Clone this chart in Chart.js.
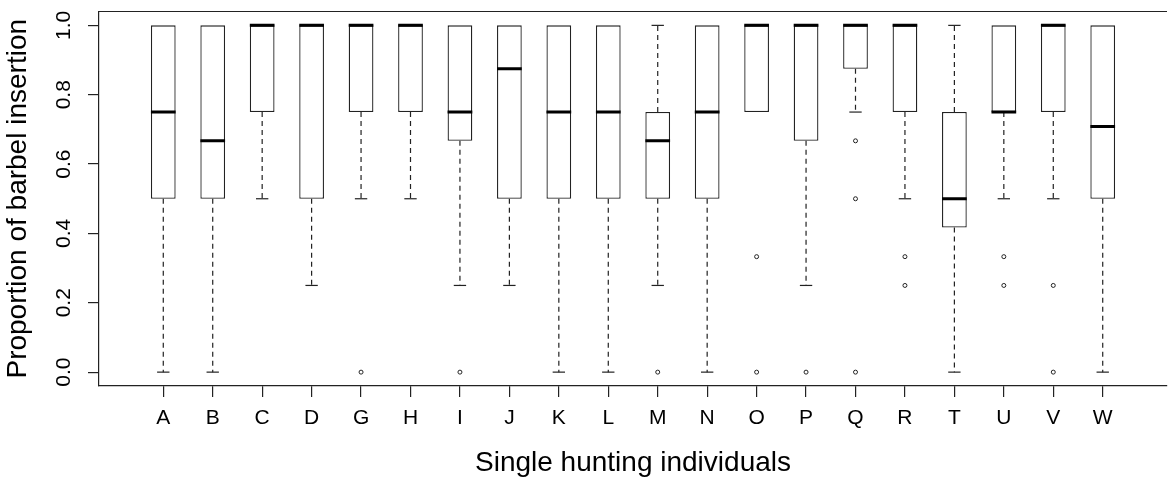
<!DOCTYPE html>
<html>
<head>
<meta charset="utf-8">
<script src="https://cdn.jsdelivr.net/npm/chart.js@4.4.1/dist/chart.umd.min.js"></script>
<style>
  html, body { margin: 0; padding: 0; background: #fff; overflow: hidden; }
  canvas { display: block; }
</style>
</head>
<body>
<canvas id="boxplot" width="1172" height="489"></canvas>
<script>
// === DATA ===
const individuals = ["A", "B", "C", "D", "G", "H", "I", "J", "K", "L", "M", "N", "O", "P", "Q", "R", "T", "U", "V", "W"];
const whiskerLow = [0, 0, 0.5, 0.25, 0.5, 0.5, 0.25, 0.25, 0, 0, 0.25, 0, 0.75, 0.25, 0.75, 0.5, 0, 0.5, 0.5, 0];
const quartile1 = [0.5, 0.5, 0.75, 0.5, 0.75, 0.75, 0.667, 0.5, 0.5, 0.5, 0.5, 0.5, 0.75, 0.667, 0.875, 0.75, 0.417, 0.75, 0.75, 0.5];
const medians = [0.75, 0.667, 1, 1, 1, 1, 0.75, 0.875, 0.75, 0.75, 0.667, 0.75, 1, 1, 1, 1, 0.5, 0.75, 1, 0.708];
const quartile3 = [1, 1, 1, 1, 1, 1, 1, 1, 1, 1, 0.75, 1, 1, 1, 1, 1, 0.75, 1, 1, 1];
const whiskerHigh = [1, 1, 1, 1, 1, 1, 1, 1, 1, 1, 1, 1, 1, 1, 1, 1, 1, 1, 1, 1];
const outliers = [[], [], [], [], [0], [], [0], [], [], [], [0], [], [0.333, 0], [0], [0.667, 0.5, 0], [0.333, 0.25], [], [0.333, 0.25], [0.25, 0], []];
const yTicks = [0, 0.2, 0.4, 0.6, 0.8, 1.0];

const FONT = "'Liberation Sans', Arial, sans-serif";
const INK = "#222";

// === WHISKERS, STAPLES, MEDIANS ===
const boxExtras = {
  id: "boxExtras",
  afterDatasetsDraw(chart) {
    const { ctx, chartArea, scales: { x, y } } = chart;
    ctx.save();
    ctx.strokeStyle = INK;
    ctx.lineWidth = 1.2;

    individuals.forEach((name, i) => {
      const cx = x.getPixelForValue(i + 1);
      const s0 = x.getPixelForValue(i + 1 - 0.125);
      const s1 = x.getPixelForValue(i + 1 + 0.125);
      // dashed whisker + staple, only where the whisker leaves the box
      [[whiskerLow[i], quartile1[i]], [whiskerHigh[i], quartile3[i]]].forEach(([end, edge]) => {
        if (end === edge) return;
        const py = y.getPixelForValue(end);
        ctx.setLineDash([5, 4]);
        ctx.beginPath();
        ctx.moveTo(cx, y.getPixelForValue(edge));
        ctx.lineTo(cx, py);
        ctx.stroke();
        ctx.setLineDash([]);
        ctx.beginPath();
        ctx.moveTo(s0, py);
        ctx.lineTo(s1, py);
        ctx.stroke();
      });
    });

    // medians
    ctx.strokeStyle = "#000";
    ctx.lineWidth = 3;
    ctx.beginPath();
    individuals.forEach((name, i) => {
      const py = y.getPixelForValue(medians[i]);
      ctx.moveTo(x.getPixelForValue(i + 1 - 0.25), py);
      ctx.lineTo(x.getPixelForValue(i + 1 + 0.25), py);
    });
    ctx.stroke();

    // top edge of the frame
    ctx.strokeStyle = INK;
    ctx.lineWidth = 1.2;
    ctx.beginPath();
    ctx.moveTo(chartArea.left, chartArea.top);
    ctx.lineTo(chartArea.right, chartArea.top);
    ctx.stroke();
    ctx.restore();
  }
};

// === CHART ===
const outlierPoints = [];
outliers.forEach((list, i) => list.forEach(v => outlierPoints.push({ x: i + 1, y: v })));

const noPadding = s => { s.paddingTop = 0; s.paddingBottom = 0; s.paddingLeft = 0; s.paddingRight = 0; };

new Chart(document.getElementById("boxplot"), {
  type: "bar",
  data: {
    datasets: [
      {
        data: individuals.map((n, i) => ({ x: i + 1, y: [quartile1[i], quartile3[i]] })),
        backgroundColor: "#fff",
        borderColor: INK,
        borderWidth: 1.3,
        borderSkipped: false,
        barPercentage: 0.5,
        categoryPercentage: 1,
        grouped: false
      },
      {
        type: "scatter",
        data: outlierPoints,
        pointStyle: "circle",
        pointRadius: 2,
        pointBorderWidth: 1,
        borderColor: INK,
        backgroundColor: "rgba(0,0,0,0)"
      }
    ]
  },
  options: {
    responsive: false,
    animation: false,
    devicePixelRatio: 1,
    layout: { padding: { top: 11.5, right: 3, left: 0, bottom: 0 } },
    plugins: { legend: { display: false }, tooltip: { enabled: false } },
    scales: {
      x: {
        type: "linear",
        min: -0.3,
        max: 21.3,
        offset: false,
        afterBuildTicks: s => { s.ticks = individuals.map((n, i) => ({ value: i + 1 })); },
        afterFit: s => { s.height = 103; noPadding(s); },
        grid: { offset: false, drawOnChartArea: false, drawTicks: true, tickLength: 11, color: INK, lineWidth: 1.2 },
        border: { display: true, color: INK, width: 1.2 },
        ticks: {
          autoSkip: false, minRotation: 0, maxRotation: 0, padding: 9,
          color: "#000", font: { family: FONT, size: 21 },
          callback: v => individuals[v - 1]
        },
        title: {
          display: true, text: "Single hunting individuals", color: "#000",
          font: { family: FONT, size: 28, lineHeight: 1 },
          padding: { top: 0, bottom: 12 }
        }
      },
      y: {
        min: -0.04,
        max: 1.04,
        afterBuildTicks: s => { s.ticks = yTicks.map(v => ({ value: v })); },
        afterFit: s => { s.width = 99; noPadding(s); },
        grid: { drawOnChartArea: false, drawTicks: true, tickLength: 11, color: INK, lineWidth: 1.2 },
        border: { display: true, color: INK, width: 1.2 },
        ticks: {
          minRotation: 90, maxRotation: 90, crossAlign: "center", padding: 9,
          color: "#000", font: { family: FONT, size: 21 },
          callback: v => v.toFixed(1)
        },
        title: {
          display: true, text: "Proportion of barbel insertion", color: "#000",
          font: { family: FONT, size: 28, lineHeight: 1 },
          padding: { top: 4, bottom: 0 }
        }
      }
    }
  },
  plugins: [boxExtras]
});
</script>
</body>
</html>
